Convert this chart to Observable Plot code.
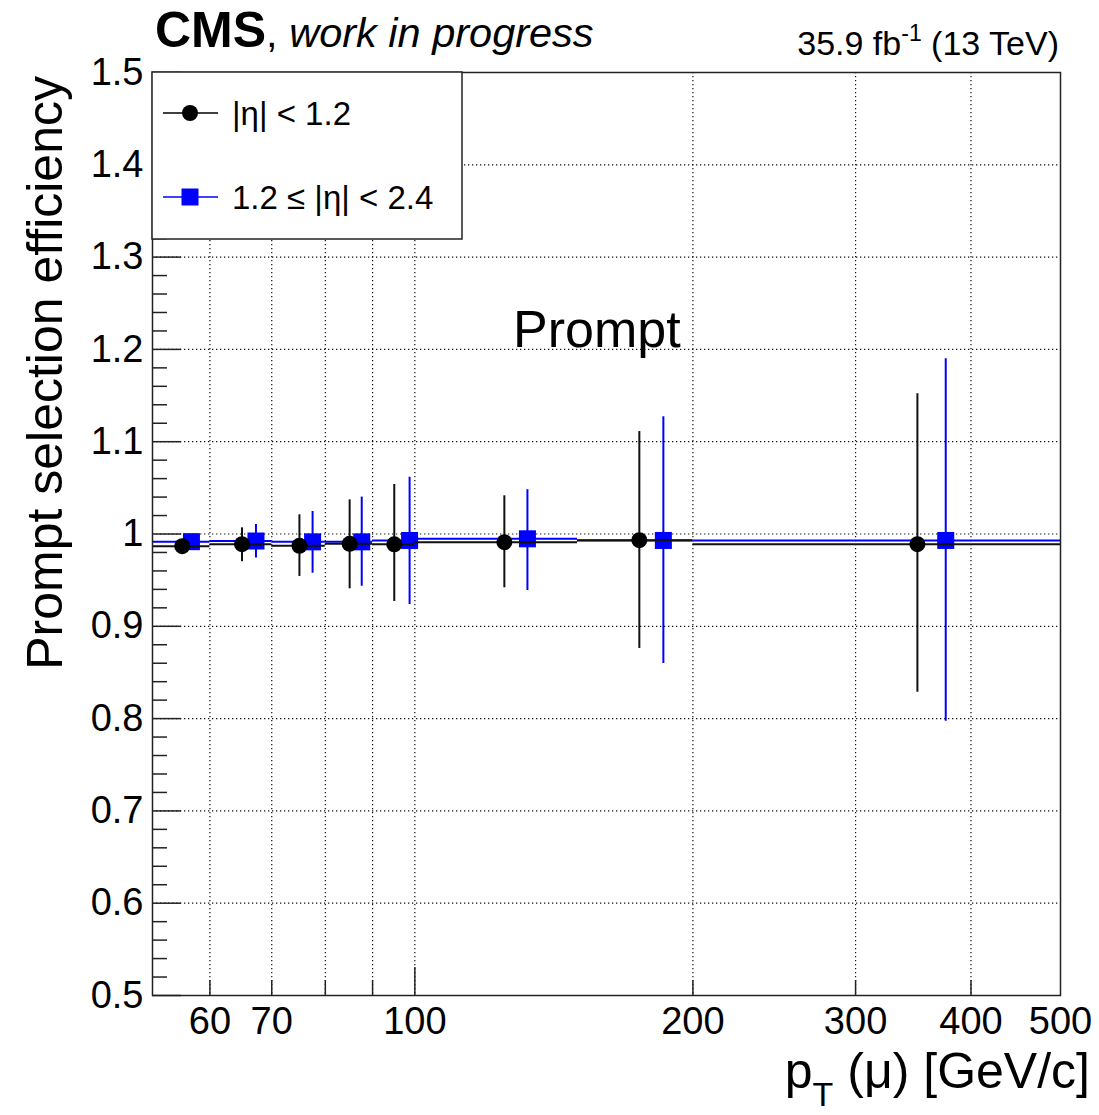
<!DOCTYPE html>
<html><head><meta charset="utf-8">
<script src="https://cdn.jsdelivr.net/npm/d3@7"></script>
<script src="https://cdn.jsdelivr.net/npm/@observablehq/plot@0.6"></script>
<style>html,body{margin:0;padding:0;background:#fff;} #chart{width:1099px;height:1115px;}</style>
</head><body><div id="chart"></div>
<script>
// Bins in pT (GeV/c)
const binLow  = [52, 60, 70, 80, 90, 100, 150, 200];
const binHigh = [60, 70, 80, 90, 100, 150, 200, 500];

// |eta| < 1.2 (black circles)
const ptBarrel   = [56, 65, 75, 85, 95, 125, 175, 350];
const effBarrel  = [0.9868, 0.9890, 0.9872, 0.9894, 0.9888, 0.9911, 0.9933, 0.9890];
const lowBarrel  = [0.9810, 0.9700, 0.9540, 0.9406, 0.9269, 0.9417, 0.8760, 0.8286];
const highBarrel = [0.9930, 1.0067, 1.0208, 1.0370, 1.0536, 1.0414, 1.1110, 1.1520];

// 1.2 <= |eta| < 2.4 (blue squares)
const ptEndcap   = [57.3, 67.3, 77.5, 87.6, 98.7, 132.4, 185.8, 375.6];
const effEndcap  = [0.9917, 0.9924, 0.9915, 0.9915, 0.9930, 0.9948, 0.9930, 0.9930];
const lowEndcap  = [0.9875, 0.9740, 0.9575, 0.9434, 0.9236, 0.9388, 0.8597, 0.7970];
const highEndcap = [0.9960, 1.0103, 1.0244, 1.0400, 1.0615, 1.0480, 1.1270, 1.1900];

// Axis ticks
const xTickLabels = [60, 70, 100, 200, 300, 400, 500];
const xGridTicks  = [60, 70, 80, 90, 100, 200, 300, 400];
const xShortTicks = [60, 70, 80, 90, 200, 300, 400];
const xLongTicks  = [100];
const yTickLabels = [0.5, 0.6, 0.7, 0.8, 0.9, 1.0, 1.1, 1.2, 1.3, 1.4, 1.5];
const yGridTicks  = [0.6, 0.7, 0.8, 0.9, 1.0, 1.1, 1.2, 1.3, 1.4];
const yMinorTicks = d3.range(0.52, 1.5, 0.02).filter(v => Math.abs(v * 10 - Math.round(v * 10)) > 1e-6);

const barrel = ptBarrel.map((pt, i) => ({pt, eff: effBarrel[i], low: lowBarrel[i], high: highBarrel[i], lo: binLow[i], hi: binHigh[i]}));
const endcap = ptEndcap.map((pt, i) => ({pt, eff: effEndcap[i], low: lowEndcap[i], high: highEndcap[i], lo: binLow[i], hi: binHigh[i]}));

const W = 1099, H = 1115;
const mL = 152, mR = 39, mT = 72, mB = 120;
const frameW = W - mL - mR, frameH = H - mT - mB;
const FONT = "'Liberation Sans', Arial, Helvetica, sans-serif";
const BLUE = "#0000ff";

const plot = Plot.plot({
  width: W, height: H,
  marginLeft: mL, marginRight: mR, marginTop: mT, marginBottom: mB,
  style: {background: "white", fontFamily: FONT, overflow: "visible"},
  x: {type: "log", domain: [52, 500], axis: null},
  y: {domain: [0.5, 1.5], axis: null},
  marks: [
    Plot.gridX(xGridTicks, {stroke: "#111", strokeOpacity: 1, strokeWidth: 1.2, strokeDasharray: "1.3,2.7"}),
    Plot.gridY(yGridTicks, {stroke: "#111", strokeOpacity: 1, strokeWidth: 1.2, strokeDasharray: "1.3,2.7"}),
    // inner ticks
    Plot.ruleY(yTickLabels, {insetRight: frameW - 29, stroke: "#222", strokeWidth: 1.5}),
    Plot.ruleY(yMinorTicks, {insetRight: frameW - 15, stroke: "#222", strokeWidth: 1.5}),
    Plot.ruleX(xShortTicks, {insetTop: frameH - 15, stroke: "#222", strokeWidth: 1.5}),
    Plot.ruleX(xLongTicks, {insetTop: frameH - 28, stroke: "#222", strokeWidth: 1.5}),
    // endcap (blue)
    Plot.ruleY(endcap, {y: "eff", x1: "lo", x2: "hi", stroke: BLUE, strokeWidth: 2}),
    Plot.ruleX(endcap, {x: "pt", y1: "low", y2: "high", stroke: BLUE, strokeWidth: 2}),
    Plot.dot(endcap, {x: "pt", y: "eff", symbol: "square", r: 9.6, fill: BLUE, stroke: "none"}),
    // barrel (black)
    Plot.ruleY(barrel, {y: "eff", x1: "lo", x2: "hi", stroke: "#111", strokeWidth: 2}),
    Plot.ruleX(barrel, {x: "pt", y1: "low", y2: "high", stroke: "#111", strokeWidth: 2}),
    Plot.dot(barrel, {x: "pt", y: "eff", r: 8, fill: "black", stroke: "none"}),
    Plot.frame({stroke: "#222", strokeWidth: 1.5}),
    // tick labels
    Plot.axisX({ticks: xTickLabels, tickSize: 0, tickPadding: 12, fontSize: 38, tickFormat: d => String(d), label: null}),
    Plot.axisY({ticks: yTickLabels, tickSize: 0, tickPadding: 9, fontSize: 38, tickFormat: d => d === 1 ? "1" : d3.format(".1f")(d), label: null})
  ]
});

document.getElementById("chart").appendChild(plot);

// Annotations
const svg = d3.select(plot);
const g = svg.append("g").attr("font-family", FONT).attr("fill", "black").attr("text-anchor", "start");

// Legend
const lg = g.append("g");
lg.append("rect").attr("x", mL).attr("y", mT).attr("width", 462 - mL).attr("height", 239 - mT)
  .attr("fill", "white").attr("stroke", "#222").attr("stroke-width", 1.5);
const legendItems = [
  {y: 113, color: "black", shape: "circle", label: "|η| < 1.2"},
  {y: 197, color: BLUE, shape: "square", label: "1.2 ≤ |η| < 2.4"}
];
legendItems.forEach(it => {
  lg.append("line").attr("x1", 163).attr("x2", 218).attr("y1", it.y).attr("y2", it.y)
    .attr("stroke", it.color).attr("stroke-width", 1.5);
  if (it.shape === "circle") lg.append("circle").attr("cx", 190).attr("cy", it.y).attr("r", 8).attr("fill", it.color);
  else lg.append("rect").attr("x", 190 - 8.5).attr("y", it.y - 8.5).attr("width", 17).attr("height", 17).attr("fill", it.color);
  lg.append("text").attr("x", 232).attr("y", it.y).attr("dy", "0.36em").attr("font-size", 33).text(it.label);
});

// CMS title
const t1 = g.append("text").attr("x", 155).attr("y", 47);
t1.append("tspan").attr("font-weight", "bold").attr("font-size", 50).text("CMS");
t1.append("tspan").attr("font-size", 41.5).text(", ");
t1.append("tspan").attr("font-size", 41.5).attr("font-style", "italic").text("work in progress");

// Luminosity
const t2 = g.append("text").attr("x", 1059).attr("y", 55).attr("text-anchor", "end").attr("font-size", 34);
t2.append("tspan").text("35.9 fb");
t2.append("tspan").attr("font-size", 23).attr("dy", -14).text("-1");
t2.append("tspan").attr("dy", 14).text(" (13 TeV)");

// Prompt label
g.append("text").attr("x", 513).attr("y", 347).attr("font-size", 52).text("Prompt");

// Y title
g.append("text").attr("transform", "translate(62,76) rotate(-90)").attr("text-anchor", "end")
  .attr("font-size", 50).text("Prompt selection efficiency");

// X title
const t3 = g.append("text").attr("x", 1090).attr("y", 1088).attr("text-anchor", "end").attr("font-size", 50);
t3.append("tspan").text("p");
t3.append("tspan").attr("font-size", 34).attr("dy", 18).text("T");
t3.append("tspan").attr("dy", -18).text(" (μ) [GeV/c]");
</script>
</body></html>
